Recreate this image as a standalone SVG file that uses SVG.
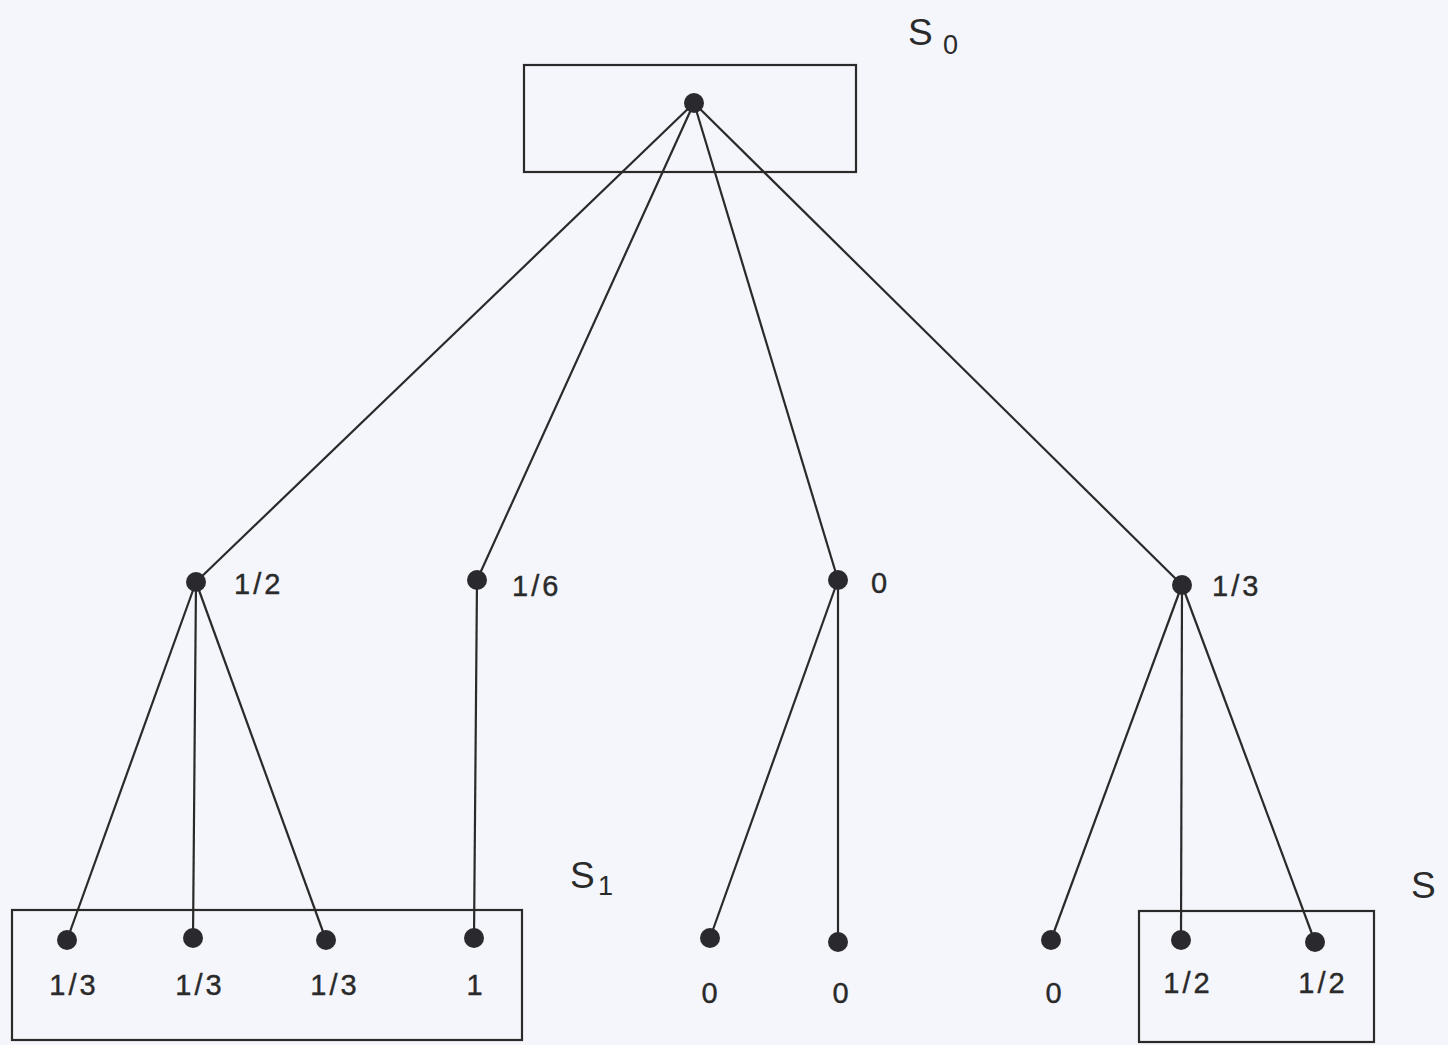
<svg xmlns="http://www.w3.org/2000/svg" width="1448" height="1045" viewBox="0 0 1448 1045">
<style>
.box{fill:none;stroke:#2a2a2a;stroke-width:2.2}
.edge{stroke:#2a2a2a;stroke-width:2.2;fill:none}
.dot{fill:#2a2a2e}
.lbl{font-family:"Liberation Sans",Arial,sans-serif;font-size:29px;fill:#2a2a2a;letter-spacing:3px;stroke:#2a2a2a;stroke-width:0.4}
.set{font-family:"Liberation Sans",Arial,sans-serif;font-size:37px;fill:#2a2a2a}
.sub{font-family:"Liberation Sans",Arial,sans-serif;font-size:27px;fill:#2a2a2a}
</style>
<rect width="1448" height="1045" fill="#f5f6fb"/>
<g id="boxes">
<rect id="box-s0" class="box" x="524" y="65" width="332" height="107"/>
<rect id="box-s1" class="box" x="12" y="910" width="510" height="130"/>
<rect id="box-s2" class="box" x="1139" y="911" width="235" height="131"/>
</g>
<g id="set-labels">
<g id="label-s0"><text class="set" x="908" y="45">S</text><text class="sub" x="943" y="54">0</text></g>
<g id="label-s1"><text class="set" x="570" y="888">S</text><text class="sub" x="598" y="895">1</text></g>
<g id="label-s2"><text class="set" x="1411" y="898">S</text></g>
</g>
<g id="connectors">
<line class="edge" x1="694" y1="103" x2="196" y2="582"/>
<line class="edge" x1="694" y1="103" x2="477" y2="580"/>
<line class="edge" x1="694" y1="103" x2="838" y2="580"/>
<line class="edge" x1="694" y1="103" x2="1182" y2="585"/>
<line class="edge" x1="196" y1="582" x2="67" y2="940"/>
<line class="edge" x1="196" y1="582" x2="193" y2="938"/>
<line class="edge" x1="196" y1="582" x2="326" y2="940"/>
<line class="edge" x1="477" y1="580" x2="474" y2="938"/>
<line class="edge" x1="838" y1="580" x2="710" y2="938"/>
<line class="edge" x1="838" y1="580" x2="838" y2="942"/>
<line class="edge" x1="1182" y1="585" x2="1051" y2="940"/>
<line class="edge" x1="1182" y1="585" x2="1181" y2="940"/>
<line class="edge" x1="1182" y1="585" x2="1315" y2="942"/>
</g>
<g id="root"><circle class="dot" cx="694" cy="103" r="10"/></g>
<g id="n1"><circle class="dot" cx="196" cy="582" r="10"/><text class="lbl" x="234" y="594">1/2</text></g>
<g id="n2"><circle class="dot" cx="477" cy="580" r="10"/><text class="lbl" x="512" y="596">1/6</text></g>
<g id="n3"><circle class="dot" cx="838" cy="580" r="10"/><text class="lbl" x="871" y="593">0</text></g>
<g id="n4"><circle class="dot" cx="1182" cy="585" r="10"/><text class="lbl" x="1212" y="596">1/3</text></g>
<g id="l1"><circle class="dot" cx="67" cy="940" r="10"/><text class="lbl" x="74" y="995" text-anchor="middle">1/3</text></g>
<g id="l2"><circle class="dot" cx="193" cy="938" r="10"/><text class="lbl" x="200" y="995" text-anchor="middle">1/3</text></g>
<g id="l3"><circle class="dot" cx="326" cy="940" r="10"/><text class="lbl" x="335" y="995" text-anchor="middle">1/3</text></g>
<g id="l4"><circle class="dot" cx="474" cy="938" r="10"/><text class="lbl" x="476" y="995" text-anchor="middle">1</text></g>
<g id="l5"><circle class="dot" cx="710" cy="938" r="10"/><text class="lbl" x="711" y="1003" text-anchor="middle">0</text></g>
<g id="l6"><circle class="dot" cx="838" cy="942" r="10"/><text class="lbl" x="842" y="1003" text-anchor="middle">0</text></g>
<g id="l7"><circle class="dot" cx="1051" cy="940" r="10"/><text class="lbl" x="1055" y="1003" text-anchor="middle">0</text></g>
<g id="l8"><circle class="dot" cx="1181" cy="940" r="10"/><text class="lbl" x="1188" y="993" text-anchor="middle">1/2</text></g>
<g id="l9"><circle class="dot" cx="1315" cy="942" r="10"/><text class="lbl" x="1323" y="993" text-anchor="middle">1/2</text></g>
</svg>
